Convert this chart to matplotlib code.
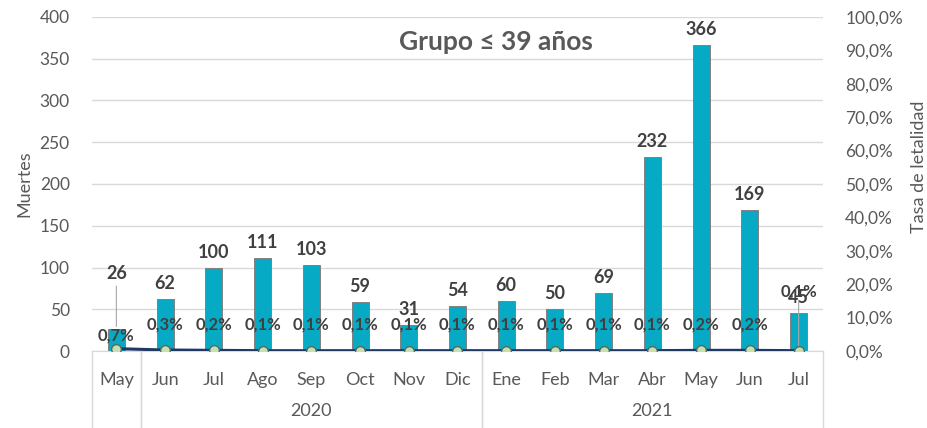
import matplotlib

matplotlib.use("Agg")
import matplotlib.pyplot as plt
import numpy as np
from matplotlib.ticker import FuncFormatter, MultipleLocator

plt.rcParams["font.family"] = ["Lato", "DejaVu Sans"]

months = ["May", "Jun", "Jul", "Ago", "Sep", "Oct", "Nov", "Dic",
          "Ene", "Feb", "Mar", "Abr", "May", "Jun", "Jul"]
deaths = [26, 62, 100, 111, 103, 59, 31, 54, 60, 50, 69, 232, 366, 169, 45]
rates = [0.007, 0.003, 0.002, 0.001, 0.001, 0.001, 0.001, 0.001,
         0.001, 0.001, 0.001, 0.001, 0.002, 0.002, 0.001]
rate_labels = ["0,7%", "0,3%", "0,2%", "0,1%", "0,1%", "0,1%", "0,1%", "0,1%",
               "0,1%", "0,1%", "0,1%", "0,1%", "0,2%", "0,2%", "0,1%"]
# year groups as (label, first index, last index)
year_groups = [("", 0, 0), ("2020", 1, 7), ("2021", 8, 14)]

BAR = "#06AAC4"
LINE = "#1F3864"
MARK = "#C5E0B4"
TXT = "#404040"
TICK = "#595959"
GRID = "#D9D9D9"

x = np.arange(len(months))

fig = plt.figure(figsize=(9.28, 4.28), dpi=100)
ax = fig.add_axes([92 / 928, 77 / 428, 731 / 928, 334 / 428])
ax2 = ax.twinx()

ax.bar(x, deaths, width=0.35, color=BAR, edgecolor="#808080", linewidth=0.7, zorder=2)
ax.set_xlim(-0.5, len(months) - 0.5)
ax.set_ylim(0, 400)
ax.yaxis.set_major_locator(MultipleLocator(50))
ax.grid(axis="y", color=GRID, linewidth=1.0, zorder=0)
ax.set_axisbelow(True)
for s in ["top", "right", "left"]:
    ax.spines[s].set_visible(False)
ax.spines["bottom"].set_color(GRID)
ax.tick_params(axis="y", length=0, pad=16, labelsize=12.5, labelcolor=TICK)
ax.tick_params(axis="x", length=0, labelbottom=False)
ax.set_ylabel("Muertes", fontsize=13, color=TICK, va="center")
ax.yaxis.set_label_coords(-0.092, 0.5)

ax2.plot(x, rates, color=LINE, linewidth=2.2, marker="o", markersize=7,
         markerfacecolor=MARK, markeredgecolor="#5A6B5A", markeredgewidth=1.0, zorder=4)
ax2.set_ylim(0, 1.0)
ax2.yaxis.set_major_locator(MultipleLocator(0.1))
ax2.yaxis.set_major_formatter(FuncFormatter(lambda v, p: f"{v * 100:.1f}%".replace(".", ",")))
for s in ["top", "right", "left", "bottom"]:
    ax2.spines[s].set_visible(False)
ax2.tick_params(axis="y", length=0, pad=16, labelsize=12.5, labelcolor=TICK)
ax2.set_ylabel("Tasa de letalidad", fontsize=13, color=TICK, va="center", rotation=90)
ax2.yaxis.set_label_coords(1.132, 0.55)

# death counts above bars
for i, d in enumerate(deaths):
    dy = 5
    if i == 0:
        dy = 34
        ax.annotate("", xy=(i, d), xytext=(i, d + 55),
                    arrowprops=dict(arrowstyle="-", color="#A6A6A6", lw=0.8))
    ax.annotate(str(d), (i, d), xytext=(0, dy), textcoords="offset points",
                ha="center", va="bottom", fontsize=13, fontweight="bold", color=TXT)

# lethality labels above the markers
for i, (r, lab) in enumerate(zip(rates, rate_labels)):
    if i == 0:
        ypx = 15
    elif i == len(rates) - 1:
        ypx = 59
        ax2.annotate("", xy=(i, r), xytext=(i, 0.16),
                     arrowprops=dict(arrowstyle="-", color="#A6A6A6", lw=0.8))
    else:
        ypx = 26
    ax2.annotate(lab, (i, 0), xytext=(0, ypx * 0.72), textcoords="offset points",
                 ha="center", va="center", fontsize=12, fontweight="bold", color=TXT, zorder=5)

# two-level category axis
trans = ax.get_xaxis_transform()
for i, m in enumerate(months):
    ax.text(i, -29 / 334, m, transform=trans, ha="center", va="center",
            fontsize=13, color=TICK)
for lab, a, b in year_groups:
    ax.text((a + b) / 2 if lab else a, -60 / 334, lab, transform=trans,
            ha="center", va="center", fontsize=13, color=TICK)
    for edge in (a - 0.5, b + 0.5):
        ax.plot([edge, edge], [0, -0.25], transform=trans, color=GRID,
                linewidth=1.0, clip_on=False)

ax.text(0.553, 0.925, "Grupo ≤ 39 años", transform=ax.transAxes, ha="center",
        va="center", fontsize=19, fontweight="bold", color=TICK)

fig.savefig("out.png", dpi=100)
